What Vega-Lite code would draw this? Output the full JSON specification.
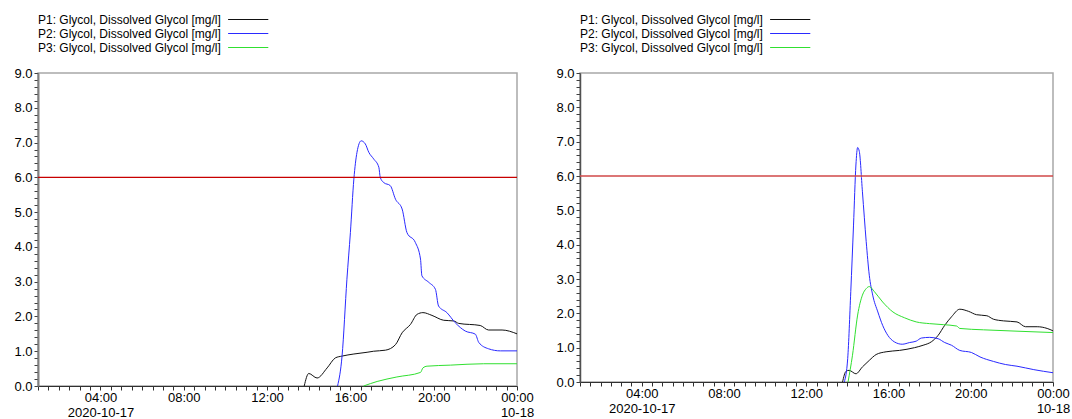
{
  "$schema": "https://vega.github.io/schema/vega-lite/v6.json",
  "padding": {"left": 13, "top": 12, "right": 0, "bottom": 0},
  "config": {
    "font": "Liberation Sans",
    "view": {"stroke": "#a8a8a8", "strokeWidth": 1.5},
    "axis": {"labelFontSize": 13, "labelColor": "#000000", "title": null, "grid": false}
  },
  "datasets": {
    "dl": [
      {"s": "P1", "t": "2020-10-17T13:47Z", "v": 0},
      {"s": "P1", "t": "2020-10-17T14:00Z", "v": 0.36},
      {"s": "P1", "t": "2020-10-17T14:24Z", "v": 0.23},
      {"s": "P1", "t": "2020-10-17T14:53Z", "v": 0.52},
      {"s": "P1", "t": "2020-10-17T15:17Z", "v": 0.81},
      {"s": "P1", "t": "2020-10-17T15:36Z", "v": 0.86},
      {"s": "P1", "t": "2020-10-17T16:10Z", "v": 0.92},
      {"s": "P1", "t": "2020-10-17T16:48Z", "v": 0.97},
      {"s": "P1", "t": "2020-10-17T17:07Z", "v": 1.0},
      {"s": "P1", "t": "2020-10-17T17:41Z", "v": 1.03},
      {"s": "P1", "t": "2020-10-17T18:10Z", "v": 1.19},
      {"s": "P1", "t": "2020-10-17T18:29Z", "v": 1.53},
      {"s": "P1", "t": "2020-10-17T18:53Z", "v": 1.77},
      {"s": "P1", "t": "2020-10-17T19:12Z", "v": 2.06},
      {"s": "P1", "t": "2020-10-17T19:29Z", "v": 2.11},
      {"s": "P1", "t": "2020-10-17T19:55Z", "v": 2.03},
      {"s": "P1", "t": "2020-10-17T20:29Z", "v": 1.89},
      {"s": "P1", "t": "2020-10-17T20:58Z", "v": 1.87},
      {"s": "P1", "t": "2020-10-17T21:12Z", "v": 1.80},
      {"s": "P1", "t": "2020-10-17T22:14Z", "v": 1.74},
      {"s": "P1", "t": "2020-10-17T22:38Z", "v": 1.61},
      {"s": "P1", "t": "2020-10-17T23:17Z", "v": 1.61},
      {"s": "P1", "t": "2020-10-18T00:00Z", "v": 1.50},
      {"s": "P2", "t": "2020-10-17T15:23Z", "v": 0},
      {"s": "P2", "t": "2020-10-17T15:36Z", "v": 0.86},
      {"s": "P2", "t": "2020-10-17T15:50Z", "v": 3.07},
      {"s": "P2", "t": "2020-10-17T16:00Z", "v": 4.41},
      {"s": "P2", "t": "2020-10-17T16:10Z", "v": 5.95},
      {"s": "P2", "t": "2020-10-17T16:19Z", "v": 6.72},
      {"s": "P2", "t": "2020-10-17T16:31Z", "v": 7.05},
      {"s": "P2", "t": "2020-10-17T16:43Z", "v": 6.96},
      {"s": "P2", "t": "2020-10-17T16:53Z", "v": 6.72},
      {"s": "P2", "t": "2020-10-17T17:07Z", "v": 6.53},
      {"s": "P2", "t": "2020-10-17T17:22Z", "v": 6.29},
      {"s": "P2", "t": "2020-10-17T17:26Z", "v": 6.0},
      {"s": "P2", "t": "2020-10-17T17:36Z", "v": 5.85},
      {"s": "P2", "t": "2020-10-17T17:55Z", "v": 5.76},
      {"s": "P2", "t": "2020-10-17T18:10Z", "v": 5.37},
      {"s": "P2", "t": "2020-10-17T18:29Z", "v": 5.09},
      {"s": "P2", "t": "2020-10-17T18:43Z", "v": 4.41},
      {"s": "P2", "t": "2020-10-17T19:07Z", "v": 4.13},
      {"s": "P2", "t": "2020-10-17T19:22Z", "v": 3.65},
      {"s": "P2", "t": "2020-10-17T19:26Z", "v": 3.17},
      {"s": "P2", "t": "2020-10-17T19:46Z", "v": 2.98},
      {"s": "P2", "t": "2020-10-17T20:05Z", "v": 2.78},
      {"s": "P2", "t": "2020-10-17T20:14Z", "v": 2.30},
      {"s": "P2", "t": "2020-10-17T20:38Z", "v": 2.11},
      {"s": "P2", "t": "2020-10-17T21:02Z", "v": 1.82},
      {"s": "P2", "t": "2020-10-17T21:31Z", "v": 1.58},
      {"s": "P2", "t": "2020-10-17T22:00Z", "v": 1.49},
      {"s": "P2", "t": "2020-10-17T22:10Z", "v": 1.25},
      {"s": "P2", "t": "2020-10-17T22:38Z", "v": 1.07},
      {"s": "P2", "t": "2020-10-17T23:12Z", "v": 1.01},
      {"s": "P2", "t": "2020-10-18T00:00Z", "v": 1.01},
      {"s": "P3", "t": "2020-10-17T16:38Z", "v": 0},
      {"s": "P3", "t": "2020-10-17T17:17Z", "v": 0.13},
      {"s": "P3", "t": "2020-10-17T18:14Z", "v": 0.26},
      {"s": "P3", "t": "2020-10-17T19:22Z", "v": 0.39},
      {"s": "P3", "t": "2020-10-17T19:29Z", "v": 0.52},
      {"s": "P3", "t": "2020-10-17T19:41Z", "v": 0.57},
      {"s": "P3", "t": "2020-10-17T20:48Z", "v": 0.60},
      {"s": "P3", "t": "2020-10-17T22:24Z", "v": 0.64},
      {"s": "P3", "t": "2020-10-18T00:00Z", "v": 0.64}
    ],
    "dr": [
      {"s": "P1", "t": "2020-10-17T13:46Z", "v": 0},
      {"s": "P1", "t": "2020-10-17T13:56Z", "v": 0.31},
      {"s": "P1", "t": "2020-10-17T14:05Z", "v": 0.34},
      {"s": "P1", "t": "2020-10-17T14:25Z", "v": 0.24},
      {"s": "P1", "t": "2020-10-17T14:44Z", "v": 0.44},
      {"s": "P1", "t": "2020-10-17T15:04Z", "v": 0.63},
      {"s": "P1", "t": "2020-10-17T15:24Z", "v": 0.80},
      {"s": "P1", "t": "2020-10-17T15:53Z", "v": 0.88},
      {"s": "P1", "t": "2020-10-17T16:32Z", "v": 0.92},
      {"s": "P1", "t": "2020-10-17T17:16Z", "v": 1.0},
      {"s": "P1", "t": "2020-10-17T17:41Z", "v": 1.07},
      {"s": "P1", "t": "2020-10-17T18:05Z", "v": 1.17},
      {"s": "P1", "t": "2020-10-17T18:25Z", "v": 1.36},
      {"s": "P1", "t": "2020-10-17T18:44Z", "v": 1.65},
      {"s": "P1", "t": "2020-10-17T19:04Z", "v": 1.90},
      {"s": "P1", "t": "2020-10-17T19:28Z", "v": 2.12},
      {"s": "P1", "t": "2020-10-17T19:53Z", "v": 2.06},
      {"s": "P1", "t": "2020-10-17T20:17Z", "v": 1.96},
      {"s": "P1", "t": "2020-10-17T20:47Z", "v": 1.93},
      {"s": "P1", "t": "2020-10-17T21:06Z", "v": 1.83},
      {"s": "P1", "t": "2020-10-17T21:36Z", "v": 1.78},
      {"s": "P1", "t": "2020-10-17T22:15Z", "v": 1.75},
      {"s": "P1", "t": "2020-10-17T22:40Z", "v": 1.61},
      {"s": "P1", "t": "2020-10-17T23:14Z", "v": 1.61},
      {"s": "P1", "t": "2020-10-17T23:43Z", "v": 1.56},
      {"s": "P1", "t": "2020-10-18T00:00Z", "v": 1.49},
      {"s": "P2", "t": "2020-10-17T13:51Z", "v": 0},
      {"s": "P2", "t": "2020-10-17T14:01Z", "v": 0.68},
      {"s": "P2", "t": "2020-10-17T14:10Z", "v": 2.63},
      {"s": "P2", "t": "2020-10-17T14:18Z", "v": 4.57},
      {"s": "P2", "t": "2020-10-17T14:25Z", "v": 6.32},
      {"s": "P2", "t": "2020-10-17T14:30Z", "v": 6.83},
      {"s": "P2", "t": "2020-10-17T14:35Z", "v": 6.71},
      {"s": "P2", "t": "2020-10-17T14:44Z", "v": 5.54},
      {"s": "P2", "t": "2020-10-17T14:55Z", "v": 4.09},
      {"s": "P2", "t": "2020-10-17T15:04Z", "v": 3.11},
      {"s": "P2", "t": "2020-10-17T15:14Z", "v": 2.53},
      {"s": "P2", "t": "2020-10-17T15:29Z", "v": 2.04},
      {"s": "P2", "t": "2020-10-17T15:43Z", "v": 1.65},
      {"s": "P2", "t": "2020-10-17T15:58Z", "v": 1.36},
      {"s": "P2", "t": "2020-10-17T16:17Z", "v": 1.17},
      {"s": "P2", "t": "2020-10-17T16:40Z", "v": 1.10},
      {"s": "P2", "t": "2020-10-17T17:02Z", "v": 1.15},
      {"s": "P2", "t": "2020-10-17T17:21Z", "v": 1.19},
      {"s": "P2", "t": "2020-10-17T17:36Z", "v": 1.28},
      {"s": "P2", "t": "2020-10-17T18:00Z", "v": 1.30},
      {"s": "P2", "t": "2020-10-17T18:25Z", "v": 1.26},
      {"s": "P2", "t": "2020-10-17T18:44Z", "v": 1.15},
      {"s": "P2", "t": "2020-10-17T19:04Z", "v": 1.07},
      {"s": "P2", "t": "2020-10-17T19:28Z", "v": 0.92},
      {"s": "P2", "t": "2020-10-17T20:02Z", "v": 0.86},
      {"s": "P2", "t": "2020-10-17T20:27Z", "v": 0.73},
      {"s": "P2", "t": "2020-10-17T21:06Z", "v": 0.60},
      {"s": "P2", "t": "2020-10-17T21:41Z", "v": 0.51},
      {"s": "P2", "t": "2020-10-17T22:15Z", "v": 0.46},
      {"s": "P2", "t": "2020-10-17T23:04Z", "v": 0.36},
      {"s": "P2", "t": "2020-10-18T00:00Z", "v": 0.27},
      {"s": "P3", "t": "2020-10-17T14:02Z", "v": 0},
      {"s": "P3", "t": "2020-10-17T14:15Z", "v": 0.78},
      {"s": "P3", "t": "2020-10-17T14:30Z", "v": 1.95},
      {"s": "P3", "t": "2020-10-17T14:44Z", "v": 2.53},
      {"s": "P3", "t": "2020-10-17T14:55Z", "v": 2.72},
      {"s": "P3", "t": "2020-10-17T15:04Z", "v": 2.78},
      {"s": "P3", "t": "2020-10-17T15:19Z", "v": 2.63},
      {"s": "P3", "t": "2020-10-17T15:43Z", "v": 2.33},
      {"s": "P3", "t": "2020-10-17T16:13Z", "v": 2.04},
      {"s": "P3", "t": "2020-10-17T16:47Z", "v": 1.87},
      {"s": "P3", "t": "2020-10-17T17:21Z", "v": 1.75},
      {"s": "P3", "t": "2020-10-17T18:00Z", "v": 1.70},
      {"s": "P3", "t": "2020-10-17T18:40Z", "v": 1.67},
      {"s": "P3", "t": "2020-10-17T19:19Z", "v": 1.63},
      {"s": "P3", "t": "2020-10-17T19:28Z", "v": 1.56},
      {"s": "P3", "t": "2020-10-17T20:37Z", "v": 1.52},
      {"s": "P3", "t": "2020-10-17T22:15Z", "v": 1.48},
      {"s": "P3", "t": "2020-10-18T00:00Z", "v": 1.44}
    ]
  },
  "spacing": 20,
  "resolve": {"scale": {"color": "independent"}, "legend": {"color": "independent"}},
  "hconcat": [
    {
      "width": 479,
      "height": 313,
      "layer": [
        {
          "data": {"name": "dl"},
          "mark": {"type": "line", "strokeWidth": 1, "interpolate": "monotone"},
          "encoding": {
            "x": {"field": "t", "type": "temporal",
              "scale": {"type": "utc", "domain": [1602896400000, 1602979200000]},
              "axis": {"tickCount": 46, "labelOverlap": false, "labelFlush": false,
                "labelExpr": "utcminutes(datum.value) == 0 && utchours(datum.value) % 4 == 0 ? (utchours(datum.value) == 0 ? (utcdate(datum.value) == 18 ? ['00:00', '10-18'] : '') : (utchours(datum.value) == 4 ? ['04:00', '2020-10-17'] : utcFormat(datum.value, '%H:%M'))) : ''",
                "tickSize": 4, "labelLineHeight": 15,
                "domainColor": "#303030", "tickColor": "#303030", "labelPadding": 1}},
            "y": {"field": "v", "type": "quantitative",
              "scale": {"domain": [0, 9], "nice": false},
              "axis": {"tickCount": 45, "labelOverlap": false, "labelFlush": false,
                "labelExpr": "abs(datum.value - round(datum.value)) < 0.001 ? format(datum.value, '.1f') : ''",
                "tickSize": 4,
                "domainColor": "#808080", "domainWidth": 2, "tickColor": "#404040", "labelPadding": 2}},
            "color": {"field": "s", "type": "nominal",
              "scale": {"domain": ["P1", "P2", "P3"], "range": ["#111111", "#2a2aff", "#30e030"]},
              "legend": {"orient": "top", "title": null, "direction": "vertical", "offset": 19,
                "symbolType": "M30.6,0H37.3", "symbolSize": 144, "symbolStrokeWidth": 1,
                "labelOffset": -13, "labelFontSize": 12, "labelColor": "#000000",
                "labelLimit": 300, "rowPadding": 1,
                "labelExpr": "datum.label + ': Glycol, Dissolved Glycol [mg/l]'"}}
          }
        },
        {
          "data": {"values": [{"r": 6}]},
          "mark": {"type": "rule", "color": "#c80000", "strokeWidth": 1.2},
          "encoding": {"y": {"field": "r", "type": "quantitative"}}
        }
      ]
    },
    {
      "width": 473,
      "height": 309,
      "layer": [
        {
          "data": {"name": "dr"},
          "mark": {"type": "line", "strokeWidth": 1, "interpolate": "monotone"},
          "encoding": {
            "x": {"field": "t", "type": "temporal",
              "scale": {"type": "utc", "domain": [1602896400000, 1602979200000]},
              "axis": {"tickCount": 46, "labelOverlap": false, "labelFlush": false,
                "labelExpr": "utcminutes(datum.value) == 0 && utchours(datum.value) % 4 == 0 ? (utchours(datum.value) == 0 ? (utcdate(datum.value) == 18 ? ['00:00', '10-18'] : '') : (utchours(datum.value) == 4 ? ['04:00', '2020-10-17'] : utcFormat(datum.value, '%H:%M'))) : ''",
                "tickSize": 4, "labelLineHeight": 15,
                "domainColor": "#303030", "tickColor": "#303030", "labelPadding": 1}},
            "y": {"field": "v", "type": "quantitative",
              "scale": {"domain": [0, 9], "nice": false},
              "axis": {"tickCount": 45, "labelOverlap": false, "labelFlush": false,
                "labelExpr": "abs(datum.value - round(datum.value)) < 0.001 ? format(datum.value, '.1f') : ''",
                "tickSize": 4,
                "domainColor": "#505050", "domainWidth": 1.5, "tickColor": "#404040", "labelPadding": 2}},
            "color": {"field": "s", "type": "nominal",
              "scale": {"domain": ["P1", "P2", "P3"], "range": ["#111111", "#2a2aff", "#30e030"]},
              "legend": {"orient": "top", "title": null, "direction": "vertical", "offset": 19,
                "symbolType": "M30.6,0H37.3", "symbolSize": 144, "symbolStrokeWidth": 1,
                "labelOffset": -13, "labelFontSize": 12, "labelColor": "#000000",
                "labelLimit": 300, "rowPadding": 1,
                "labelExpr": "datum.label + ': Glycol, Dissolved Glycol [mg/l]'"}}
          }
        },
        {
          "data": {"values": [{"r": 6}]},
          "mark": {"type": "rule", "color": "#d04848", "strokeWidth": 1.5},
          "encoding": {"y": {"field": "r", "type": "quantitative"}}
        }
      ]
    }
  ]
}
